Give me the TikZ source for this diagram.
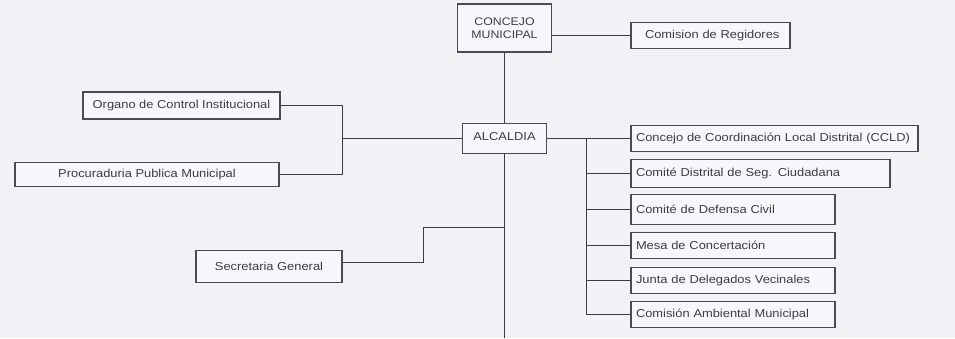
\documentclass[tikz,border=0pt]{standalone}
\usepackage{fontspec}
\setmainfont[FakeStretch=1.12]{Liberation Sans}
\definecolor{bg}{HTML}{F1F1F6}
\definecolor{boxfill}{HTML}{F7F7FB}
\definecolor{edge}{HTML}{4A4A5C}
\definecolor{wire}{HTML}{3A3A4C}
\definecolor{ink}{HTML}{3C3C48}
\begin{document}
\begin{tikzpicture}[x=1pt,y=-1pt,
  box/.style={draw=edge, fill=boxfill, line width=1.5pt, inner sep=0pt,
    font=\fontsize{11.5}{13}\selectfont, text=ink},
  lbox/.style={box, align=left, text width=#1-10pt, inner xsep=5pt},
  cbox/.style={box, align=center, minimum width=#1},
  wirestyle/.style={draw=wire, line width=1.5pt}]
\useasboundingbox (0,0) rectangle (955,338);
\fill[bg] (0,0) rectangle (955,338);

% top
\node[cbox=94pt, minimum height=48pt, font=\fontsize{11}{12.5}\selectfont] (concejo) at (504.5,28) {CONCEJO\\MUNICIPAL};
\node[lbox=159pt, minimum height=26pt] (regid) at (710.5,35.5) {\hspace*{9pt}Comision de Regidores};
\node[cbox=84pt, minimum height=30pt] (alcaldia) at (504.5,138.5) {\raisebox{4pt}{ALCALDIA}};

% left
\node[cbox=197pt, minimum height=27pt] (organo) at (181.5,105.5) {Organo de Control Institucional};
\node[cbox=264pt, minimum height=24pt] (procu) at (147,174.5) {Procuraduria Publica Municipal};
\node[cbox=146pt, minimum height=32pt] (secre) at (269,266.5) {Secretaria General};

% right
\node[lbox=287pt, minimum height=26pt] (ccld) at (774.5,138.5) {Concejo de Coordinación Local Distrital (CCLD)};
\node[lbox=259pt, minimum height=28pt] (dist) at (760.5,173.5) {Comité Distrital de Seg. Ciudadana};
\node[lbox=204pt, minimum height=30pt] (defc) at (733,209.5) {Comité de Defensa Civil};
\node[lbox=204pt, minimum height=26pt] (mesa) at (733,245.5) {Mesa de Concertación};
\node[lbox=204pt, minimum height=26pt] (junta) at (733,280.5) {Junta de Delegados Vecinales};
\node[lbox=204pt, minimum height=26pt] (comis) at (733,314.5) {Comisión Ambiental Municipal};

\coordinate (bottom) at (504.5,338);
\coordinate (lj) at (342.5,138.5);
\coordinate (rj) at (586.5,138.5);
\coordinate (sj) at (504.5,227.5);
\coordinate (sk) at (423.5,262.5);

% connectors
\draw[wirestyle] (regid.west) -- (regid.west -| concejo.east);
\draw[wirestyle] (concejo.south) -- (alcaldia.north);
\draw[wirestyle] (alcaldia.south) -- (bottom);
\draw[wirestyle] (alcaldia.west) -- (lj);
\draw[wirestyle] (organo.east) -| (lj |- procu.east) -- (procu.east);
\draw[wirestyle] ([yshift=4pt]secre.east) -- (sk) |- (sj);
\draw[wirestyle] (alcaldia.east) -- (ccld.west);
\draw[wirestyle] (rj) |- (comis.west);
\draw[wirestyle] (rj |- dist.west) -- (dist.west);
\draw[wirestyle] (rj |- defc.west) -- (defc.west);
\draw[wirestyle] (rj |- mesa.west) -- (mesa.west);
\draw[wirestyle] (rj |- junta.west) -- (junta.west);
\end{tikzpicture}
\end{document}
